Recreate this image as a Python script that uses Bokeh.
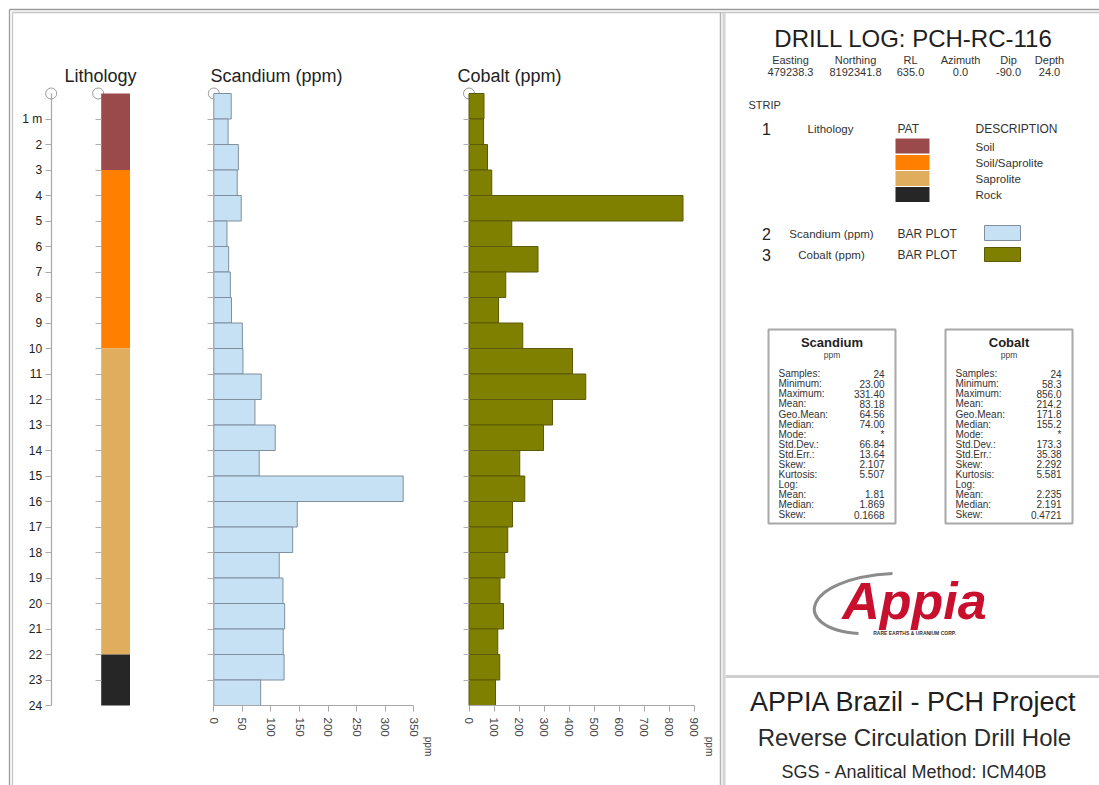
import math
from bokeh.plotting import figure
from bokeh.models import Range1d, LinearAxis, FixedTicker, Label
from bokeh.embed import file_html
from bokeh.resources import INLINE

# ---------------- data ----------------
DEPTH_FROM = [0, 1, 2, 3, 4, 5, 6, 7, 8, 9, 10, 11, 12, 13, 14, 15, 16, 17, 18, 19, 20, 21, 22, 23]
DEPTH_TO = [1, 2, 3, 4, 5, 6, 7, 8, 9, 10, 11, 12, 13, 14, 15, 16, 17, 18, 19, 20, 21, 22, 23, 24]
SCANDIUM = [30.5, 25, 43, 41, 48, 23.0, 26, 29, 31, 50, 51, 83, 72, 107.5, 79.5,
            331.4, 146, 138, 114.5, 121, 124, 121.5, 123, 82]
COBALT = [60, 58.3, 74, 91, 856, 171, 276, 147, 118, 215, 414, 467, 334, 298, 203,
          223, 174, 155, 143, 124, 138, 115, 123, 106]

LITH_NAMES = ["Soil", "Soil/Saprolite", "Saprolite", "Rock"]
LITH_FROM = [0, 3, 10, 22]
LITH_TO = [3, 10, 22, 24]
LITH_COLORS = ["#9a4a4a", "#ff8000", "#e0ad5e", "#262626"]

DEPTH_TICKS = [1, 2, 3, 4, 5, 6, 7, 8, 9, 10, 11, 12, 13, 14, 15, 16, 17, 18, 19, 20, 21, 22, 23, 24]
SC_TICKS = [0, 50, 100, 150, 200, 250, 300, 350]
CO_TICKS = [0, 100, 200, 300, 400, 500, 600, 700, 800, 900]

HEADER_NAMES = ["Easting", "Northing", "RL", "Azimuth", "Dip", "Depth"]
HEADER_VALUES = ["479238.3", "8192341.8", "635.0", "0.0", "-90.0", "24.0"]

STAT_LABELS = ["Samples:", "Minimum:", "Maximum:", "Mean:", "Geo.Mean:", "Median:", "Mode:",
               "Std.Dev.:", "Std.Err.:", "Skew:", "Kurtosis:", "Log:", "Mean:", "Median:", "Skew:"]
SC_STATS = ["24", "23.00", "331.40", "83.18", "64.56", "74.00", "*", "66.84", "13.64",
            "2.107", "5.507", "", "1.81", "1.869", "0.1668"]
CO_STATS = ["24", "58.3", "856.0", "214.2", "171.8", "155.2", "*", "173.3", "35.38",
            "2.292", "5.581", "", "2.235", "2.191", "0.4721"]

SC_COLOR, SC_LINE = "#c6e1f3", "#7f8f9e"
CO_COLOR, CO_LINE = "#808000", "#5a5a08"

# ---------------- layout constants (pixel positions) ----------------
W, H = 1099, 785
OFF = 0
FONT = "Liberation Sans"

D_Y0, D_PX = 93.0, 25.5           # depth 0 pixel, pixels per metre
SC_X0, SC_PX = 213.3, 200.0 / 350  # scandium 0 pixel, px per ppm
CO_X0, CO_PX = 468.5, 0.25         # cobalt 0 pixel, px per ppm
DEPTH_AXIS_X = 50.7
LITH_LEFT, LITH_RIGHT = 100.7, 129.5


def lin_range(p0, scale, lo_px, hi_px):
    return Range1d(start=(lo_px - p0) / scale, end=(hi_px - p0) / scale)


depth_range = Range1d(start=(OFF + H - D_Y0) / D_PX, end=(OFF - D_Y0) / D_PX)

p = figure(width=W, height=H, x_range=Range1d(OFF, OFF + W), y_range=depth_range,
           x_axis_type=None, y_axis_type=None, toolbar_location=None,
           output_backend="svg", min_border=0, min_border_left=0, min_border_right=0,
           min_border_top=0, min_border_bottom=0, outline_line_color=None,
           background_fill_color="white", border_fill_color="white")
p.extra_x_ranges = {"sc": lin_range(SC_X0, SC_PX, OFF, OFF + W),
                    "co": lin_range(CO_X0, CO_PX, OFF, OFF + W)}
p.extra_y_ranges = {"py": Range1d(OFF + H, OFF)}


def lab(x, y, text, size, align="left", color="#222222", style="normal",
        angle=0.0, baseline="middle", x_range_name="default", x_offset=0):
    p.add_layout(Label(x=x, y=y, x_range_name=x_range_name, y_range_name="py",
                       x_offset=x_offset, text=text, text_font=FONT,
                       text_font_size=f"{size}px", text_align=align,
                       text_baseline=baseline, text_color=color,
                       text_font_style=style, angle=angle))


# ---------------- frame lines ----------------
p.segment(x0=[9, 12], y0=[9, 12], x1=[9, 12], y1=[OFF + H, OFF + H],
          y_range_name="py", line_color=["#9a9a9a", "#c4c4c4"], line_width=1.3)
p.segment(x0=[9, 12], y0=[9, 12], x1=[OFF + W, OFF + W], y1=[9, 12],
          y_range_name="py", line_color=["#9a9a9a", "#c4c4c4"], line_width=1.3)
p.segment(x0=[720, 723.5], y0=[12, 12], x1=[720, 723.5], y1=[OFF + H, OFF + H],
          y_range_name="py", line_color=["#b4b4b4", "#d4d4d4"], line_width=[1.5, 3])
p.segment(x0=[725], y0=[676], x1=[OFF + W], y1=[676],
          y_range_name="py", line_color="#cfcfcf", line_width=3)

# ---------------- strip titles ----------------
lab(100, 75, "Lithology", 18, align="center")
lab(210, 75, "Scandium (ppm)", 18)
lab(457, 75, "Cobalt (ppm)", 18)

# small start circles
p.scatter(x=[DEPTH_AXIS_X, LITH_LEFT - 3, SC_X0, CO_X0], y=[0, 0, 0, 0], size=11,
          marker="circle", fill_color="white", line_color="#9a9a9a", line_width=1)

# ---------------- depth axis ----------------
depth_axis = LinearAxis(fixed_location=DEPTH_AXIS_X, bounds=(0, 24),
                        ticker=FixedTicker(ticks=DEPTH_TICKS),
                        major_label_overrides={1: "1 m"},
                        axis_line_color="#a8a8a8", axis_line_width=1.2,
                        major_tick_line_color="#a8a8a8", major_tick_out=6, major_tick_in=0,
                        minor_tick_line_color=None,
                        major_label_text_font=FONT, major_label_text_font_size="12px",
                        major_label_text_color="#222222", major_label_standoff=3)
p.add_layout(depth_axis, "left")

# tick-only axes on the left side of each strip
for loc in (LITH_LEFT, SC_X0, CO_X0):
    ax = LinearAxis(fixed_location=loc, bounds=(0, 24),
                    ticker=FixedTicker(ticks=DEPTH_TICKS[:-1]),
                    axis_line_color=None, major_tick_line_color="#b0b0b0",
                    major_tick_out=6, major_tick_in=0, minor_tick_line_color=None,
                    major_label_text_font_size="0px", major_label_text_color=None)
    p.add_layout(ax, "left")

# ---------------- lithology strip ----------------
p.quad(left=LITH_LEFT, right=LITH_RIGHT, top=LITH_FROM, bottom=LITH_TO,
       fill_color=LITH_COLORS, line_color=None)

# ---------------- scandium bars ----------------
p.quad(left=0, right=SCANDIUM, top=DEPTH_FROM, bottom=DEPTH_TO, x_range_name="sc",
       fill_color=SC_COLOR, line_color=SC_LINE, line_width=1)

# ---------------- cobalt bars ----------------
p.quad(left=0, right=COBALT, top=DEPTH_FROM, bottom=DEPTH_TO, x_range_name="co",
       fill_color=CO_COLOR, line_color=CO_LINE, line_width=1)

# ---------------- bottom value axes ----------------
for rng, ticks in (("sc", SC_TICKS), ("co", CO_TICKS)):
    ax = LinearAxis(x_range_name=rng, fixed_location=24, bounds=(ticks[0], ticks[-1]),
                    ticker=FixedTicker(ticks=ticks),
                    axis_line_color="#a8a8a8", axis_line_width=1.2,
                    major_tick_line_color="#a8a8a8", major_tick_out=6, major_tick_in=0,
                    minor_tick_line_color=None,
                    major_label_orientation=-math.pi / 2,
                    major_label_text_font=FONT, major_label_text_font_size="11.5px",
                    major_label_text_color="#444444", major_label_standoff=6)
    p.add_layout(ax, "below")
    lab(ticks[-1], 746, "ppm", 10, align="center", color="#444444",
        angle=-math.pi / 2, x_range_name=rng, x_offset=15)

# ---------------- right panel: header ----------------
lab(913, 38, "DRILL LOG: PCH-RC-116", 24, align="center", color="#1e1e1e")
HEADER_X = [790, 855, 910, 960, 1008, 1049]
for hx, name, val in zip(HEADER_X, HEADER_NAMES, HEADER_VALUES):
    lab(hx, 59, name, 11, align="center", color="#333333")
    lab(hx, 71, val, 11, align="center", color="#333333")

# ---------------- right panel: strip legend ----------------
lab(748, 104, "STRIP", 11, color="#333333")
lab(766, 128, "1", 16, align="center")
lab(830, 128, "Lithology", 11.5, align="center", color="#333333")
lab(897, 128, "PAT", 12, color="#333333")
lab(975, 128, "DESCRIPTION", 12, color="#333333")
SW_TOP = [138, 154.5, 170.5, 186.5]
p.quad(left=895, right=929, top=SW_TOP, bottom=[t + 15 for t in SW_TOP],
       y_range_name="py", fill_color=LITH_COLORS, line_color=None)
for t, name in zip(SW_TOP, LITH_NAMES):
    lab(975, t + 8, name, 11.5, color="#333333")

lab(766, 233, "2", 16, align="center")
lab(831, 233, "Scandium (ppm)", 11.5, align="center", color="#333333")
lab(897, 233, "BAR PLOT", 12, color="#333333")
lab(766, 254, "3", 16, align="center")
lab(831, 254, "Cobalt (ppm)", 11.5, align="center", color="#333333")
lab(897, 254, "BAR PLOT", 12, color="#333333")
p.quad(left=[984, 984], right=[1020, 1020], top=[225, 247], bottom=[240, 261],
       y_range_name="py", fill_color=[SC_COLOR, CO_COLOR], line_color=[SC_LINE, CO_LINE],
       line_width=1)

# ---------------- right panel: stats boxes ----------------
for bx, title, stats in ((768, "Scandium", SC_STATS), (945, "Cobalt", CO_STATS)):
    p.quad(left=bx, right=bx + 127, top=329, bottom=523, y_range_name="py",
           fill_color="white", line_color="#a8a8a8", line_width=2)
    lab(bx + 63.5, 342, title, 13, align="center", style="bold", color="#222222")
    lab(bx + 63.5, 354, "ppm", 8.5, align="center", color="#444444")
    for i, (name, val) in enumerate(zip(STAT_LABELS, stats)):
        y = 373.3 + i * 10.05
        lab(bx + 10, y, name, 10, color="#333333")
        if val:
            lab(bx + 116, y, val, 10, align="right", color="#333333")

# ---------------- logo ----------------
p.bezier(x0=[892], y0=[573], x1=[858], y1=[633], cx0=[800], cy0=[578], cx1=[790], cy1=[628],
         y_range_name="py", line_color="#8c8c8c", line_width=3)
lab(914, 600, "Appia", 52, align="center", color="#c8102e", style="bold italic")
lab(914, 632, "RARE EARTHS & URANIUM CORP.", 5, align="center", color="#333333", style="bold")

# ---------------- bottom titles ----------------
lab(913, 701, "APPIA Brazil - PCH Project", 27, align="center", color="#1e1e1e")
lab(914, 737, "Reverse Circulation Drill Hole", 24, align="center", color="#2a2a2a")
lab(914, 771, "SGS - Analitical Method: ICM40B", 18, align="center", color="#2a2a2a")

open("out.html", "w").write(file_html(p, INLINE))
